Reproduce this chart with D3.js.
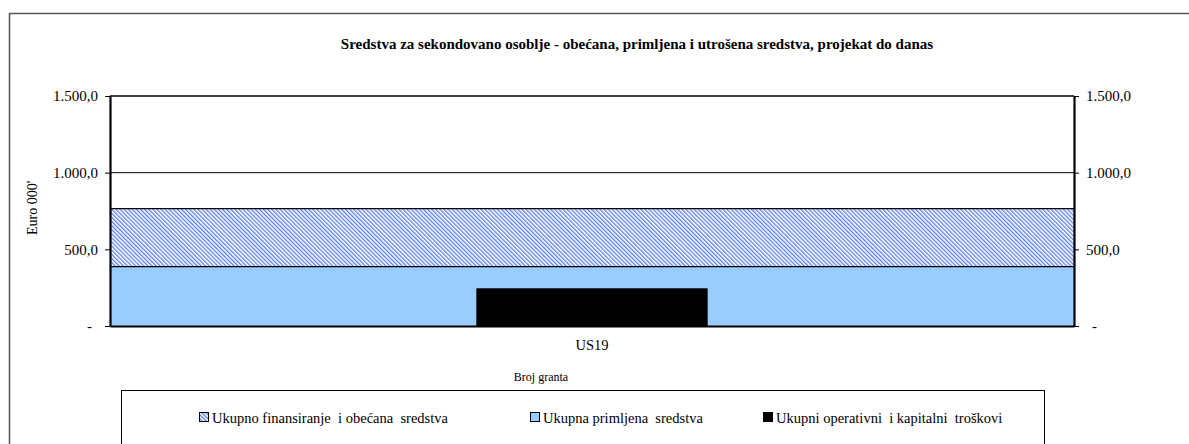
<!DOCTYPE html>
<meta charset="utf-8">
<script src="https://d3js.org/d3.v7.min.js"></script>
<style>
  body { margin: 0; background: #fff; }
  text { font-family: "Liberation Serif", "Times New Roman", serif; fill: #000; }
</style>
<body>
<div id="my_dataviz"></div>
<script>
// data
var categories = ["US19"];
var seriesNames = ["Ukupno finansiranje  i obećana  sredstva", "Ukupna primljena  sredstva", "Ukupni operativni  i kapitalni  troškovi"];
var promised = [765];
var received = [387];
var spent = [246];
var tickValues = [0, 500, 1000, 1500];

var width = 1189, height = 444;
var margin = {top: 96, right: 115, bottom: 118, left: 110};
var serif = "'Liberation Serif', 'Times New Roman', serif";

var svg = d3.select("#my_dataviz")
  .append("svg")
    .attr("width", width)
    .attr("height", height);

// hatch pattern (fine blue diagonal stripes)
var defs = svg.append("defs");
var pat = defs.append("pattern")
    .attr("id", "hatch")
    .attr("patternUnits", "userSpaceOnUse")
    .attr("width", 2.9)
    .attr("height", 2.9)
    .attr("patternTransform", "rotate(-45)");
pat.append("rect").attr("width", 2.9).attr("height", 2.9).attr("fill", "#ffffff");
pat.append("rect").attr("width", 1.3).attr("height", 2.9).attr("fill", "#5a7ff0");

// outer frame
svg.append("rect")
  .attr("x", 9.5).attr("y", 13.5)
  .attr("width", 1200).attr("height", 500)
  .attr("fill", "none")
  .attr("stroke", "#555")
  .attr("stroke-width", 1.5);

// title
svg.append("text")
  .attr("x", 637).attr("y", 49)
  .attr("text-anchor", "middle")
  .style("font-size", "15px")
  .style("font-weight", "bold")
  .text("Sredstva za sekondovano osoblje - obećana, primljena i utrošena sredstva, projekat do danas");

var x = d3.scaleBand()
  .domain(categories)
  .range([margin.left, width - margin.right])
  .padding(0);

var y = d3.scaleLinear()
  .domain([0, 1500])
  .range([height - margin.bottom, margin.top]);

// gridlines
svg.append("g")
  .selectAll("line")
  .data(tickValues.filter(function(d) { return d > 0; }))
  .enter().append("line")
    .attr("x1", x.range()[0]).attr("x2", x.range()[1])
    .attr("y1", function(d) { return y(d); })
    .attr("y2", function(d) { return y(d); })
    .attr("stroke", "#000")
    .attr("stroke-width", function(d) { return d === 1500 ? 1.5 : 1; });

// promised (hatched)
svg.append("g")
  .selectAll("rect")
  .data(promised)
  .enter().append("rect")
    .attr("x", function(d, i) { return x(categories[i]); })
    .attr("width", x.bandwidth())
    .attr("y", function(d) { return y(d); })
    .attr("height", function(d) { return y(0) - y(d); })
    .attr("fill", "url(#hatch)");

// received
svg.append("g")
  .selectAll("rect")
  .data(received)
  .enter().append("rect")
    .attr("x", function(d, i) { return x(categories[i]); })
    .attr("width", x.bandwidth())
    .attr("y", function(d) { return y(d); })
    .attr("height", function(d) { return y(0) - y(d); })
    .attr("fill", "#99ccff");

// bar tops
[promised, received].forEach(function(arr) {
  svg.append("g")
    .selectAll("line")
    .data(arr)
    .enter().append("line")
      .attr("x1", function(d, i) { return x(categories[i]); })
      .attr("x2", function(d, i) { return x(categories[i]) + x.bandwidth(); })
      .attr("y1", function(d) { return y(d); })
      .attr("y2", function(d) { return y(d); })
      .attr("stroke", "#000")
      .attr("stroke-width", 1.2);
});

// spent (narrow black bar)
var narrow = 0.24;
svg.append("g")
  .selectAll("rect")
  .data(spent)
  .enter().append("rect")
    .attr("x", function(d, i) { return x(categories[i]) + x.bandwidth() * (1 - narrow) / 2; })
    .attr("width", x.bandwidth() * narrow)
    .attr("y", function(d) { return y(d); })
    .attr("height", function(d) { return y(0) - y(d); })
    .attr("fill", "#000");

// axes
var fmt = function(d) {
  if (d === 0) return "-";
  return d3.format(",.1f")(d).replace(/,/g, "#").replace(".", ",").replace(/#/g, ".");
};

var left = svg.append("g")
  .attr("transform", "translate(" + x.range()[0] + ",0)")
  .call(d3.axisLeft(y).tickValues(tickValues).tickFormat(fmt).tickSize(5).tickSizeOuter(0).tickPadding(7));
var right = svg.append("g")
  .attr("transform", "translate(" + x.range()[1] + ",0)")
  .call(d3.axisRight(y).tickValues(tickValues).tickFormat(fmt).tickSize(5).tickSizeOuter(0).tickPadding(7));
[left, right].forEach(function(g) {
  g.select(".domain").attr("stroke-width", 2.2);
  g.selectAll("text").style("font-size", "15px").style("font-family", serif);
});
left.selectAll("text").filter(function(d) { return d === 0; }).attr("dx", -6);
right.selectAll("text").filter(function(d) { return d === 0; }).attr("dx", 6);

// bottom axis
var bottom = svg.append("g")
  .attr("transform", "translate(0," + y(0) + ")")
  .call(d3.axisBottom(x).tickSize(0).tickPadding(14));
bottom.select(".domain").attr("stroke-width", 2.2);
bottom.selectAll("text").style("font-size", "14.5px").style("font-family", serif);

// axis titles
svg.append("text")
  .attr("transform", "translate(37," + y(770) + ") rotate(-90)")
  .attr("text-anchor", "middle")
  .style("font-size", "14px")
  .text("Euro 000'");

svg.append("text")
  .attr("x", 541).attr("y", 381)
  .attr("text-anchor", "middle")
  .style("font-size", "12px")
  .text("Broj granta");

// legend
svg.append("rect")
  .attr("x", 121.5).attr("y", 390.5)
  .attr("width", 923).attr("height", 80)
  .attr("fill", "#fff")
  .attr("stroke", "#000")
  .attr("stroke-width", 1);

var legendX = [199, 530, 763];
var legendFill = ["url(#hatch)", "#99ccff", "#000"];
var leg = svg.append("g")
  .selectAll("g")
  .data(seriesNames)
  .enter().append("g")
    .attr("transform", function(d, i) { return "translate(" + legendX[i] + ",423)"; });
leg.append("rect")
  .attr("x", 0.5).attr("y", -10.5)
  .attr("width", 9).attr("height", 9)
  .attr("fill", function(d, i) { return legendFill[i]; })
  .attr("stroke", "#000")
  .attr("stroke-width", 1);
leg.append("text")
  .attr("x", 13).attr("y", 0)
  .style("font-size", "14.5px")
  .style("white-space", "pre")
  .text(function(d) { return d; });
</script>
</body>
